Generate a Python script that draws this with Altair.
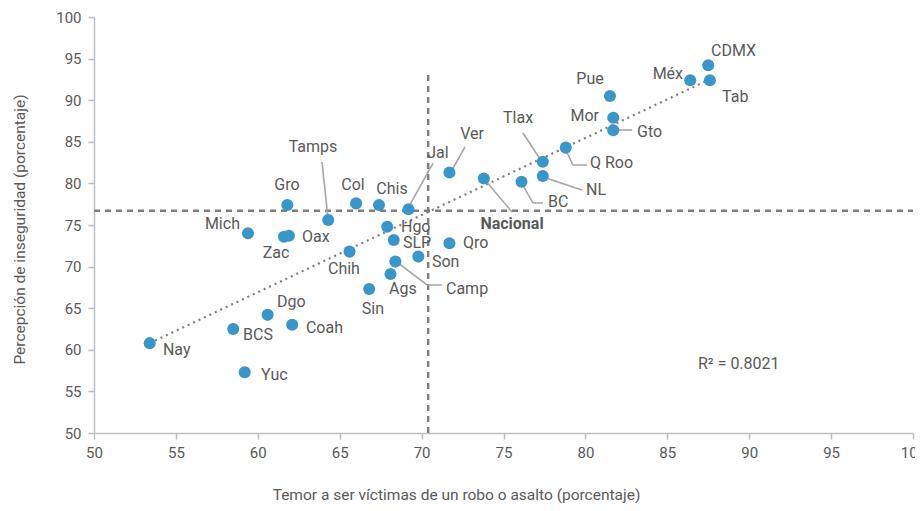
import altair as alt
import pandas as pd

# ---- data ----
states = ["Nay", "BCS", "Yuc", "Dgo", "Coah", "Mich", "Zac", "Oax", "Gro", "Tamps",
          "Col", "Chis", "Chih", "Jal", "Hgo", "SLP", "Camp", "Ags", "Sin", "Son",
          "Qro", "Ver", "Nacional", "BC", "NL", "Tlax", "Q Roo", "Mor", "Gto", "Pue",
          "Méx", "CDMX", "Tab"]
temor = [53.4, 58.5, 59.2, 60.6, 62.1, 59.4, 61.6, 61.9, 61.8, 64.3,
         66.0, 67.4, 65.6, 69.2, 67.9, 68.3, 68.4, 68.1, 66.8, 69.8,
         71.7, 71.7, 73.8, 76.1, 77.4, 77.4, 78.8, 81.7, 81.7, 81.5,
         86.4, 87.5, 87.6]
percepcion = [60.8, 62.5, 57.3, 64.2, 63.0, 74.0, 73.6, 73.7, 77.4, 75.6,
              77.6, 77.4, 71.8, 76.9, 74.8, 73.2, 70.6, 69.1, 67.3, 71.2,
              72.8, 81.3, 80.6, 80.2, 80.9, 82.6, 84.3, 87.9, 86.4, 90.5,
              92.4, 94.2, 92.4]

# label anchors (data coordinates) and alignment
label_x = [54.21, 59.10, 60.20, 61.17, 62.94, 58.91, 61.11, 62.70, 61.78, 63.37,
           65.81, 68.19, 65.26, 71.00, 68.74, 68.86, 71.49, 68.86, 67.03, 70.63,
           72.53, 73.08, 75.52, 77.72, 80.04, 75.89, 80.28, 80.83, 83.15, 80.28,
           85.96, 87.67, 88.34]
label_y = [59.98, 61.78, 56.97, 65.75, 62.62, 75.12, 71.63, 73.56, 79.81, 84.38,
           79.81, 79.33, 69.71, 83.65, 74.76, 72.84, 67.31, 67.31, 64.90, 70.55,
           72.84, 85.94, 75.12, 77.76, 79.21, 87.86, 82.45, 88.10, 86.18, 92.55,
           93.15, 95.91, 90.38]
label_align = ["left", "left", "left", "left", "left", "right", "center", "left", "center", "center",
               "center", "center", "center", "center", "left", "left", "left", "center", "center", "left",
               "left", "center", "center", "left", "left", "center", "left", "right", "left", "center",
               "right", "left", "left"]

# leader lines
leader_name = ["Tamps", "Tamps", "Jal", "Jal", "Ver", "Ver", "Camp", "Camp", "Camp",
               "Nacional", "Nacional", "BC", "BC", "BC", "NL", "NL", "Tlax", "Tlax",
               "Q Roo", "Q Roo", "Q Roo", "Gto", "Gto"]
leader_x = [63.92, 64.29, 70.70, 69.17, 72.65, 71.79, 68.50, 70.33, 71.25,
            73.87, 75.52, 76.07, 76.80, 77.41, 77.41, 79.79, 76.19, 77.35,
            78.75, 79.24, 80.10, 81.75, 82.85]
leader_y = [82.57, 75.72, 82.45, 77.04, 84.38, 81.37, 70.55, 67.79, 67.79,
            80.41, 76.56, 80.17, 77.64, 77.64, 80.77, 79.21, 86.06, 82.57,
            84.25, 82.21, 82.21, 86.42, 86.42]
leader_order = [0, 1, 0, 1, 0, 1, 0, 1, 2, 0, 1, 0, 1, 2, 0, 1, 0, 1, 0, 1, 2, 0, 1]

# reference (average) lines
ref_x = [70.4, 50.0]
ref_x2 = [70.4, 100.0]
ref_y = [50.0, 76.7]
ref_y2 = [93.4, 76.7]

# trend line end points
trend_x = [53.4, 87.8]
trend_y = [60.8, 92.7]

r2_text = ["R² = 0.8021"]
r2_x = [86.87]
r2_y = [58.29]

ticks = [50, 55, 60, 65, 70, 75, 80, 85, 90, 95, 100]

# ---- frames ----
pts = pd.DataFrame({"estado": states, "temor": temor, "percepcion": percepcion})
labs = pd.DataFrame({"estado": states, "lx": label_x, "ly": label_y, "align": label_align})
leaders = pd.DataFrame({"name": leader_name, "x": leader_x, "y": leader_y, "o": leader_order})
refs = pd.DataFrame({"x": ref_x, "x2": ref_x2, "y": ref_y, "y2": ref_y2})
trend = pd.DataFrame({"x": [trend_x[0]], "x2": [trend_x[1]], "y": [trend_y[0]], "y2": [trend_y[1]]})
r2 = pd.DataFrame({"t": r2_text, "x": r2_x, "y": r2_y})

FONT = "Roboto"
TXT = "#595959"
BLUE = "#3a96c8"
LBL = 16

xs = alt.Scale(domain=[50, 100], nice=False, zero=False)
ys = alt.Scale(domain=[50, 100], nice=False, zero=False)

x_axis = alt.Axis(values=ticks, grid=False, title="Temor a ser víctimas de un robo o asalto (porcentaje)",
                  titleX=362, titleY=61, titleAlign="center", titleBaseline="middle",
                  titleFontSize=15.5, titleFontWeight="normal", titleColor=TXT, titleFont=FONT,
                  labelFont=FONT, labelFontSize=15, labelColor=TXT, labelPadding=6,
                  domainColor="#bfbfbf", domainWidth=1.5, tickColor="#bfbfbf", tickSize=6, tickWidth=1.5,
                  labelFlush=False)
y_axis = alt.Axis(values=ticks, grid=False, title="Percepción de inseguridad (porcentaje)",
                  titleX=-75, titleY=212, titleAlign="center", titleBaseline="middle", titleAngle=270,
                  titleFontSize=15.5, titleFontWeight="normal", titleColor=TXT, titleFont=FONT,
                  labelFont=FONT, labelFontSize=15, labelColor=TXT, labelPadding=7,
                  domainColor="#bfbfbf", domainWidth=1.5, tickColor="#bfbfbf", tickSize=6, tickWidth=1.5,
                  labelFlush=False)

ref_layer = alt.Chart(refs).mark_rule(color="#7f7f7f", strokeWidth=2.5, strokeDash=[6, 5]).encode(
    x=alt.X("x:Q", scale=xs, axis=x_axis), x2="x2:Q",
    y=alt.Y("y:Q", scale=ys, axis=y_axis), y2="y2:Q")

trend_layer = alt.Chart(trend).mark_rule(color="#7f7f7f", strokeWidth=2.2, strokeDash=[2, 4]).encode(
    x=alt.X("x:Q", scale=xs), x2="x2:Q", y=alt.Y("y:Q", scale=ys), y2="y2:Q")

leader_layer = alt.Chart(leaders).mark_line(color="#a6a6a6", strokeWidth=1.6).encode(
    x=alt.X("x:Q", scale=xs), y=alt.Y("y:Q", scale=ys), detail="name:N", order="o:Q")

point_layer = alt.Chart(pts).mark_circle(size=145, color=BLUE, opacity=1).encode(
    x=alt.X("temor:Q", scale=xs), y=alt.Y("percepcion:Q", scale=ys))

def text_layer(align, bold=False, filt=None):
    base = alt.Chart(labs).transform_filter(filt).mark_text(
        align=align, baseline="middle", font=FONT, fontSize=LBL, color=TXT,
        fontWeight="bold" if bold else "normal")
    return base.encode(x=alt.X("lx:Q", scale=xs), y=alt.Y("ly:Q", scale=ys), text="estado:N")

t_left = text_layer("left", filt="datum.align == 'left' && datum.estado != 'Nacional'")
t_center = text_layer("center", filt="datum.align == 'center' && datum.estado != 'Nacional'")
t_right = text_layer("right", filt="datum.align == 'right' && datum.estado != 'Nacional'")
t_nac = text_layer("center", bold=True, filt="datum.estado == 'Nacional'")

r2_layer = alt.Chart(r2).mark_text(align="left", baseline="middle", font=FONT, fontSize=LBL, color=TXT).encode(
    x=alt.X("x:Q", scale=xs), y=alt.Y("y:Q", scale=ys), text="t:N")

chart = alt.layer(ref_layer, trend_layer, leader_layer, point_layer,
                  t_left, t_center, t_right, t_nac, r2_layer).properties(
    width=819, height=416,
    autosize=alt.AutoSizeParams(type="none"),
    padding={"left": 86, "top": 9, "right": 2, "bottom": 70},
    background="white",
).configure_view(stroke=None)

chart.save("out.html", embed_options={"renderer": "svg", "actions": False})
